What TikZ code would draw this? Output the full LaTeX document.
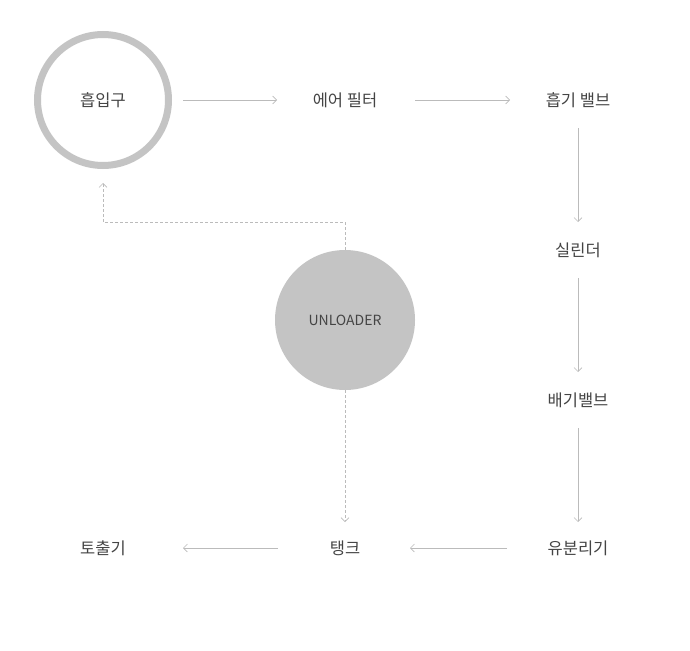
\documentclass[tikz,border=0pt]{standalone}
\usepackage{fontspec}
\setmainfont{Noto Sans CJK KR}
\usetikzlibrary{arrows.meta}
\definecolor{txt}{HTML}{444444}
\definecolor{ln}{HTML}{BBBBBB}
\definecolor{ring}{HTML}{C4C4C4}
\begin{document}
\begin{tikzpicture}[x=1pt,y=-1pt,
  lbl/.style={font=\fontsize{16.5}{18}\selectfont, text=txt, inner sep=0pt},
  flow/.style={draw=ln, line width=0.6pt, -{Straight Barb[length=4pt,width=8pt]}},
  dflow/.style={flow, dash pattern=on 3pt off 2pt}]
\useasboundingbox (0,0) rectangle (690,650);
\node[circle, draw=ring, line width=7pt, minimum size=131pt, fill=white] (in) at (103,100) {};
\node[lbl] (int) at (103,100) {흡입구};
\node[lbl] (af) at (345,100) {에어 필터};
\node[lbl] (iv) at (578,100) {흡기 밸브};
\node[lbl] (cy) at (578,250) {실린더};
\node[lbl] (ev) at (578,400) {배기밸브};
\node[lbl] (os) at (578,548) {유분리기};
\node[lbl] (tk) at (345,548) {탱크};
\node[lbl] (ds) at (103,548) {토출기};
\node[circle, fill=ring, minimum size=140pt, inner sep=0pt, font=\fontsize{14}{16}\selectfont, text=txt] (ul) at (345,320) {UNLOADER};
\coordinate (c1) at (345,222);
\coordinate (c2) at (103,222);
\coordinate (c3) at (103,183);
\coordinate (a1s) at (183,100); \coordinate (a1e) at (277,100);
\coordinate (a2s) at (415,100); \coordinate (a2e) at (510,100);
\coordinate (a3s) at (578,128); \coordinate (a3e) at (578,222);
\coordinate (a4s) at (578,278); \coordinate (a4e) at (578,372);
\coordinate (a5s) at (578,428); \coordinate (a5e) at (578,522);
\coordinate (a6s) at (507,548); \coordinate (a6e) at (410,548);
\coordinate (a7s) at (278,548); \coordinate (a7e) at (183,548);
\coordinate (d2e) at (345,522);
\draw[flow] (a1s) -- (a1e);
\draw[flow] (a2s) -- (a2e);
\draw[flow] (a3s) -- (a3e);
\draw[flow] (a4s) -- (a4e);
\draw[flow] (a5s) -- (a5e);
\draw[flow] (a6s) -- (a6e);
\draw[flow] (a7s) -- (a7e);
\draw[dflow] (ul.north) -- (c1) -- (c2) -- (c3);
\draw[dflow] (ul.south) -- (d2e);
\end{tikzpicture}
\end{document}
